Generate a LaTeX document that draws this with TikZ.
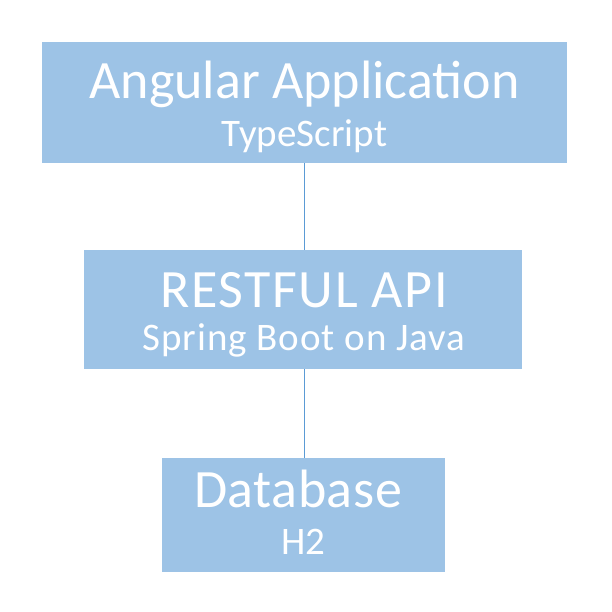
\documentclass[tikz,border=0pt]{standalone}
\usepackage{fontspec}
\setmainfont{Carlito}
\definecolor{boxfill}{HTML}{9DC3E6}
\definecolor{linec}{HTML}{5B9BD5}
\begin{document}
\begin{tikzpicture}[x=1pt,y=-1pt,
  box/.style={fill=boxfill,draw=none,inner sep=0pt,anchor=north west},
  title/.style={text=white,anchor=base,inner sep=0pt,font=\fontsize{54}{54}\selectfont},
  sub/.style={text=white,anchor=base,inner sep=0pt,font=\fontsize{39}{39}\selectfont},
  conn/.style={draw=linec,line width=1pt}]
\useasboundingbox (0,0) rectangle (611,612);
\node[box,minimum width=525pt,minimum height=121pt] (a) at (42,42) {};
\node[box,minimum width=438pt,minimum height=119pt] (b) at (84,250) {};
\node[box,minimum width=283pt,minimum height=114pt] (c) at (162,458) {};
\node[title] (at) at (304.5,99) {Angular Application};
\node[sub] (as) at (304.5,147) {TypeScript};
\node[title] (bt) at (304,307) {\addfontfeature{LetterSpace=3}RESTFUL API};
\node[sub] (bs) at (304,350) {\addfontfeature{LetterSpace=2.5}Spring Boot on Java};
\node[title] (ct) at (298,507) {\addfontfeature{LetterSpace=1}Database};
\node[sub] (cs) at (303.5,554) {H2};
\coordinate (x) at (304,0);
\draw[conn] (a.south -| x) -- (b.north -| x);
\draw[conn] (b.south -| x) -- (c.north -| x);
\end{tikzpicture}
\end{document}
